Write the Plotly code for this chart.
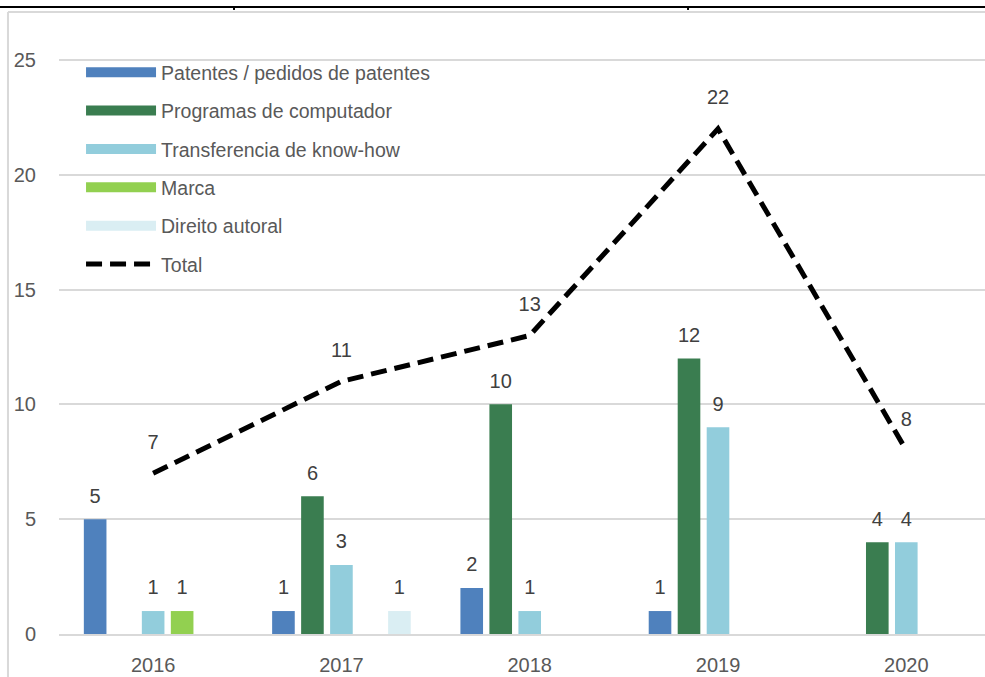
import plotly.graph_objects as go

# ---- data ----
years = ["2016", "2017", "2018", "2019", "2020"]
series_names = [
    "Patentes / pedidos de patentes",
    "Programas de computador",
    "Transferencia de know-how",
    "Marca",
    "Direito autoral",
]
patentes = [5, 1, 2, 1, 0]
programas = [0, 6, 10, 12, 4]
knowhow = [1, 3, 1, 9, 4]
marca = [1, 0, 0, 0, 0]
direito = [0, 1, 0, 0, 0]
total = [7, 11, 13, 22, 8]
y_ticks = [0, 5, 10, 15, 20, 25]

colors = ["#4F81BD", "#3A7D50", "#92CDDC", "#92D050", "#DAEEF3"]
series_values = [patentes, programas, knowhow, marca, direito]

FONT = "Liberation Sans"
TICK_COLOR = "#595959"
LABEL_COLOR = "#404040"

fig = go.Figure()

# bars
for name, vals, col in zip(series_names, series_values, colors):
    fig.add_trace(go.Bar(
        x=years, y=vals, name=name, marker=dict(color=col, line=dict(width=0)),
        showlegend=False, hoverinfo="x+y+name",
    ))

# bar value labels (grouped scatter so they sit over their bars)
for k, vals in enumerate(series_values):
    fig.add_trace(go.Scatter(
        x=years, y=vals, text=[str(v) if v else "" for v in vals],
        mode="markers+text", marker=dict(size=17, opacity=0),
        textposition="top center",
        textfont=dict(family=FONT, size=20, color=LABEL_COLOR),
        offsetgroup=f"s{k}", alignmentgroup="labels", orientation="v",
        showlegend=False, hoverinfo="skip", cliponaxis=False,
    ))

# legend proxies (wide swatches)
for name, col in zip(series_names, colors):
    fig.add_trace(go.Scatter(
        x=[None], y=[None], xaxis="x2", mode="lines",
        line=dict(color=col, width=12), name=name, legendgroup=name,
        offsetgroup="t", orientation="v", hoverinfo="skip",
    ))

# total line
fig.add_trace(go.Scatter(
    x=years, y=total, xaxis="x2", name="Total", legendgroup="Total",
    mode="lines",
    line=dict(color="black", width=5, dash="16px,8px"),
    offsetgroup="t", orientation="v", cliponaxis=False,
))
# total labels
fig.add_trace(go.Scatter(
    x=years, y=total, xaxis="x2", showlegend=False, hoverinfo="skip",
    mode="markers+text", marker=dict(size=30, opacity=0),
    text=[str(v) for v in total], textposition="top center",
    textfont=dict(family=FONT, size=20, color=LABEL_COLOR),
    offsetgroup="t", orientation="v", cliponaxis=False,
))

xr = [-0.5, 4.418]

fig.update_layout(
    width=985, height=677,
    margin=dict(l=59, r=0, t=14, b=43),
    plot_bgcolor="white", paper_bgcolor="white",
    font=dict(family=FONT, size=20, color=TICK_COLOR),
    barmode="group", bargap=0.23, bargroupgap=0.22,
    scattermode="group", scattergap=0.23,
    legend=dict(
        x=0.0238, y=0.937, xanchor="left", yanchor="top",
        itemwidth=70, tracegroupgap=10,
        font=dict(family=FONT, size=19.5, color=TICK_COLOR),
        bgcolor="rgba(0,0,0,0)",
    ),
    xaxis=dict(
        type="category", categoryorder="array", categoryarray=years,
        range=xr, showgrid=False, showline=True, linecolor="#D9D9D9",
        linewidth=2, ticks="", ticklabelstandoff=12, zeroline=False,
        automargin=False,
    ),
    xaxis2=dict(
        type="category", categoryorder="array", categoryarray=years,
        range=xr, overlaying="x", visible=False, automargin=False,
    ),
    yaxis=dict(
        range=[0, 27.0], tickvals=y_ticks, gridcolor="#D9D9D9", gridwidth=1.5,
        zeroline=False, showline=False, ticks="", ticklabelstandoff=22,
        automargin=False,
    ),
    shapes=[
        # outer chart frame (light grey) and top rule (black)
        dict(type="line", xref="paper", yref="paper", x0=-0.0551, x1=1.0,
             y0=1.0032, y1=1.0032, line=dict(color="#D9D9D9", width=2)),
        dict(type="line", xref="paper", yref="paper", x0=-0.0551, x1=-0.0551,
             y0=-0.08, y1=1.0032, line=dict(color="#D9D9D9", width=2)),
        dict(type="line", xref="paper", yref="paper", x0=-0.07, x1=1.0,
             y0=1.0113, y1=1.0113, line=dict(color="black", width=2)),
        dict(type="line", xref="paper", yref="paper", x0=0.1890, x1=0.1890,
             y0=1.0065, y1=1.0113, line=dict(color="black", width=2)),
        dict(type="line", xref="paper", yref="paper", x0=0.6793, x1=0.6793,
             y0=1.0065, y1=1.0113, line=dict(color="black", width=2)),
    ],
)

fig.write_html(
    "out.html",
    config={"displayModeBar": False},
    post_script="document.body.style.margin='0';document.body.style.overflow='hidden';",
)
